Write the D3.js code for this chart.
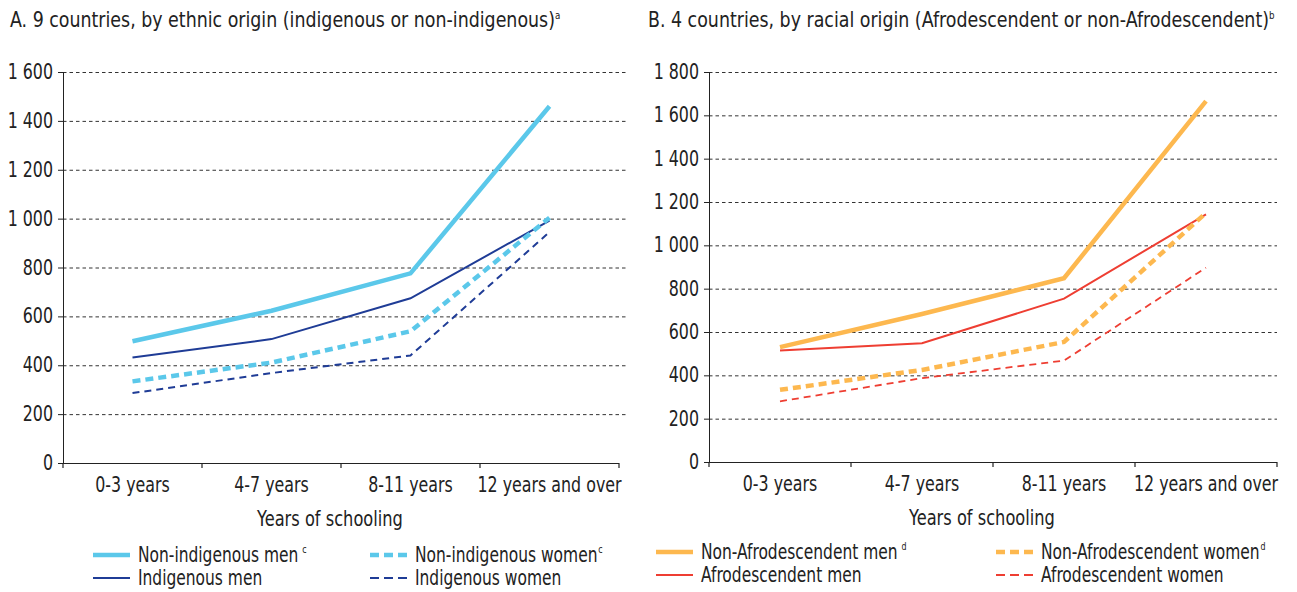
<!DOCTYPE html>
<html><head><meta charset="utf-8">
<script src="https://cdn.jsdelivr.net/npm/d3@7"></script>
<style>
body{margin:0;background:#fff;}
text{font-family:"Liberation Sans Narrow","DejaVu Sans Condensed","Roboto",sans-serif;fill:#222;}
</style></head>
<body><svg id="c" width="1297" height="592"></svg>
<script>
const categories = ["0-3 years","4-7 years","8-11 years","12 years and over"];
const ticksA = [0,200,400,600,800,1000,1200,1400,1600];
const ticksB = [0,200,400,600,800,1000,1200,1400,1600,1800];
const nonIndigenousMen   = [498, 623, 776, 1460];
const indigenousMen      = [432, 507, 674, 992];
const nonIndigenousWomen = [334, 411, 539, 1004];
const indigenousWomen    = [286, 368, 440, 945];
const nonAfroMen   = [530, 683, 848, 1666];
const afroMen      = [515, 548, 754, 1143];
const nonAfroWomen = [333, 425, 554, 1150];
const afroWomen    = [280, 387, 468, 897];

const fmt = d3.formatLocale({decimal:".", thousands:" ", grouping:[3], currency:["",""]}).format(",");
const svg = d3.select("#c");
const tf = (x, y, s) => `translate(${x},${y}) scale(${s},1)`;

function panel(cfg){
  const g = svg.append("g");
  const x = d3.scaleBand().domain(categories).range([cfg.x0, cfg.x1]);
  const y = d3.scaleLinear().domain([0, cfg.ymax]).range([cfg.y0, cfg.y1]);
  // title
  const t = g.append("text").attr("transform", tf(cfg.tx, 27, 0.88)).attr("font-size", 22).text(cfg.title);
  t.append("tspan").attr("font-size", 11).attr("dy", -8).text(cfg.sup);
  // grid
  g.selectAll(".grid").data(cfg.ticks.filter(d=>d>0)).join("line")
    .attr("x1", cfg.x0).attr("x2", cfg.gx1)
    .attr("y1", d=>y(d)+0.5).attr("y2", d=>y(d)+0.5)
    .attr("stroke", "#333").attr("stroke-width", 1).attr("stroke-dasharray", "3.5,3");
  // y axis
  g.append("line").attr("x1", cfg.x0+0.5).attr("x2", cfg.x0+0.5).attr("y1", cfg.y1).attr("y2", cfg.y0)
    .attr("stroke", "#222");
  g.selectAll(".yt").data(cfg.ticks).join("line")
    .attr("x1", cfg.x0-5).attr("x2", cfg.x0).attr("y1", d=>y(d)+0.5).attr("y2", d=>y(d)+0.5).attr("stroke","#222");
  g.selectAll(".yl").data(cfg.ticks).join("text")
    .attr("transform", d=>tf(cfg.x0-10, y(d)+7, 0.86)).attr("text-anchor","end").attr("font-size", 20.5)
    .text(d=>fmt(d));
  // x axis
  g.append("line").attr("x1", cfg.x0).attr("x2", cfg.x1).attr("y1", cfg.y0+0.5).attr("y2", cfg.y0+0.5).attr("stroke","#222").attr("stroke-width",1.2);
  const bounds = categories.map(c=>x(c)).concat([cfg.x1]);
  g.selectAll(".xt").data(bounds).join("line")
    .attr("x1", d=>d).attr("x2", d=>d).attr("y1", cfg.y0).attr("y2", cfg.y0+5).attr("stroke","#222").attr("stroke-width",1.2);
  g.selectAll(".xl").data(categories).join("text")
    .attr("transform", d=>tf(x(d)+x.bandwidth()/2, cfg.y0+29, 0.86)).attr("text-anchor","middle").attr("font-size", 20.5)
    .text(d=>d);
  g.append("text").attr("transform", tf((cfg.x0+cfg.x1)/2 - 11, cfg.y0+63, 0.86)).attr("text-anchor","middle")
    .attr("font-size", 21).text("Years of schooling");
  // lines
  const line = d3.line().x((d,i)=>x(categories[i])+x.bandwidth()/2).y(d=>y(d));
  cfg.series.forEach(s=>{
    g.append("path").datum(s.values).attr("d", line).attr("fill","none")
      .attr("stroke", s.color).attr("stroke-width", s.width)
      .attr("stroke-dasharray", s.dash || null).attr("stroke-linejoin","miter");
  });
  // legend
  cfg.series.forEach((s,i)=>{
    const col = cfg.legendOrder[i][0], row = cfg.legendOrder[i][1];
    const lx = cfg.lx[col], ly = cfg.ly[row];
    g.append("line").attr("x1", lx).attr("x2", lx+37).attr("y1", ly).attr("y2", ly)
      .attr("stroke", s.color).attr("stroke-width", s.width).attr("stroke-dasharray", s.ldash || null);
    const tt = g.append("text").attr("transform", tf(lx+45, ly+7, 0.8)).attr("font-size", 21.5).text(s.name);
    if (s.sup) tt.append("tspan").attr("font-size", 11).attr("dy", -9).attr("dx", s.supdx||2).text(s.sup);
  });
}

panel({
  title:"A. 9 countries, by ethnic origin (indigenous or non-indigenous)", sup:"a", tx:10,
  x0:63, x1:619, gx1:628, y0:463, y1:72, ymax:1600, ticks:ticksA,
  lx:[93,370], ly:[555,578],
  legendOrder:[[0,0],[0,1],[1,0],[1,1]],
  series:[
    {name:"Non-indigenous men", sup:"c", supdx:5, values:nonIndigenousMen, color:"#5BC8EA", width:4.5},
    {name:"Indigenous men", values:indigenousMen, color:"#1F3C96", width:2},
    {name:"Non-indigenous women", sup:"c", supdx:1, values:nonIndigenousWomen, color:"#5BC8EA", width:4.5, dash:"8,5", ldash:"9,5"},
    {name:"Indigenous women", values:indigenousWomen, color:"#1F3C96", width:2, dash:"7,5", ldash:"9,5"}
  ]
});
panel({
  title:"B. 4 countries, by racial origin (Afrodescendent or non-Afrodescendent)", sup:"b", tx:648,
  x0:709, x1:1277, gx1:1277, y0:462, y1:72, ymax:1800, ticks:ticksB,
  lx:[656,996], ly:[552,575],
  legendOrder:[[0,0],[0,1],[1,0],[1,1]],
  series:[
    {name:"Non-Afrodescendent men", sup:"d", supdx:5, values:nonAfroMen, color:"#FDB84F", width:4.5},
    {name:"Afrodescendent men", values:afroMen, color:"#EE3E32", width:2},
    {name:"Non-Afrodescendent women", sup:"d", supdx:1, values:nonAfroWomen, color:"#FDB84F", width:4.5, dash:"8,5", ldash:"9,5"},
    {name:"Afrodescendent women", values:afroWomen, color:"#EE3E32", width:1.8, dash:"7,5", ldash:"9,5"}
  ]
});
</script></body></html>
